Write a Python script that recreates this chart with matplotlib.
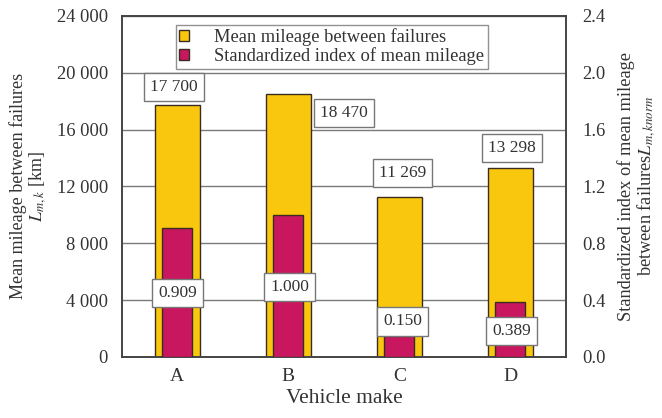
import matplotlib
matplotlib.use("Agg")
import matplotlib.pyplot as plt
import numpy as np

categories = ["A", "B", "C", "D"]
mileage = [17700, 18470, 11269, 13298]
index_norm = [0.909, 1.000, 0.150, 0.389]
mileage_labels = ["17 700", "18 470", "11 269", "13 298"]
index_labels = ["0.909", "1.000", "0.150", "0.389"]
left_ticks = [0, 4000, 8000, 12000, 16000, 20000, 24000]
left_ticklabels = ["0", "4 000", "8 000", "12 000", "16 000", "20 000", "24 000"]
right_ticks = [0.0, 0.4, 0.8, 1.2, 1.6, 2.0, 2.4]
right_ticklabels = ["0.0", "0.4", "0.8", "1.2", "1.6", "2.0", "2.4"]
# label anchor positions (data coords)
mileage_label_pos = [(-0.03, 19000), (1.5, 17170), (2.03, 12950), (3.01, 14700)]
index_label_pos = [(0.0, 0.45), (1.01, 0.49), (2.03, 0.25), (3.01, 0.18)]

plt.rcParams['font.family'] = ['Liberation Serif', 'DejaVu Serif']
plt.rcParams['mathtext.fontset'] = 'stix'

yellow = "#F9C80E"
magenta = "#C8175F"
edge = "#3B2B20"
textc = "#333333"

fig = plt.figure(figsize=(6.62, 4.18), dpi=100)
ax = fig.add_axes([0.184, 0.146, 0.671, 0.816])
ax2 = ax.twinx()

x = np.arange(len(categories))
ax.set_axisbelow(True)
ax.yaxis.grid(True, color="#7a7a7a", linewidth=1.0)
b1 = ax.bar(x, mileage, width=0.41, color=yellow, edgecolor=edge, linewidth=1.0, zorder=2,
            label="Mean mileage between failures")
b2 = ax2.bar(x, index_norm, width=0.27, color=magenta, edgecolor=edge, linewidth=1.0, zorder=3,
             label="Standardized index of mean mileage")

ax.set_xlim(-0.5, 3.5)
ax.set_ylim(0, 24000)
ax2.set_ylim(0, 2.4)
ax.set_xticks(x)
ax.set_xticklabels(categories, fontsize=14, color=textc)
ax.set_yticks(left_ticks)
ax.set_yticklabels(left_ticklabels, fontsize=13.3, color=textc)
ax2.set_yticks(right_ticks)
ax2.set_yticklabels(right_ticklabels, fontsize=13.3, color=textc)
ax.tick_params(axis='y', length=0, pad=10)
ax.tick_params(axis='x', length=0, pad=8)
ax2.tick_params(axis='both', length=0, pad=12)

for a in (ax, ax2):
    for s in a.spines.values():
        s.set_color("#444444")
        s.set_linewidth(1.2)

ax.set_xlabel("Vehicle make", fontsize=15.5, color=textc, labelpad=3)
ax.set_ylabel("Mean mileage between failures\n$L_{m,k}$ [km]", fontsize=13, color=textc,
              linespacing=1.0, labelpad=6)
ax2.set_ylabel("Standardized index of mean mileage\nbetween failures$L_{m,knorm}$", fontsize=13.2,
               color=textc, linespacing=1.0, labelpad=8, rotation=90)

bbox = dict(boxstyle="square,pad=0.35", facecolor="white", edgecolor="#777777", linewidth=1.0)
for (px, py), lab in zip(mileage_label_pos, mileage_labels):
    ax2.text(px, py / 10000.0, lab, ha="center", va="center", fontsize=12.5, color=textc,
             bbox=bbox, zorder=5)
for (px, py), lab in zip(index_label_pos, index_labels):
    ax2.text(px, py, lab, ha="center", va="center", fontsize=12.5, color=textc, bbox=bbox, zorder=5)

leg = ax2.legend([b1, b2], [b1.get_label(), b2.get_label()], loc="upper center",
                 bbox_to_anchor=(0.473, 0.974), fontsize=13.3, frameon=True, fancybox=False,
                 handlelength=0.5, handleheight=0.5, handletextpad=1.4, borderpad=0.2,
                 labelspacing=0.05, borderaxespad=0)
leg.get_frame().set_edgecolor("#777777")
leg.get_frame().set_linewidth(1.0)
for t in leg.get_texts():
    t.set_color(textc)

fig.savefig("out.png", dpi=100)
